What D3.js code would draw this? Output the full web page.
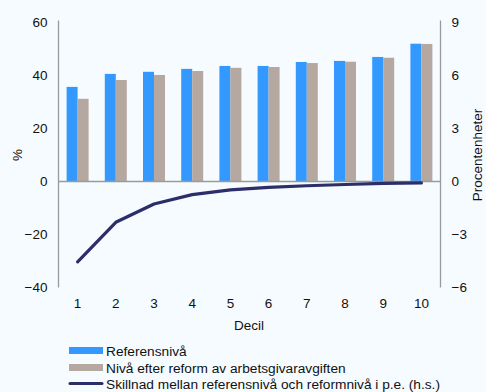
<!DOCTYPE html>
<html><head><meta charset="utf-8">
<script src="https://cdn.jsdelivr.net/npm/d3@7"></script>
<style>html,body{margin:0;padding:0;background:#f6fbff;}svg{display:block;font-family:"Liberation Sans",Arial,sans-serif;}</style>
</head><body><svg id="c" width="486" height="392"></svg>
<script>
const deciles = ["1","2","3","4","5","6","7","8","9","10"];
const referens = [35.7, 40.6, 41.4, 42.5, 43.6, 43.6, 45.1, 45.5, 47.0, 52.0];
const reform = [31.2, 38.3, 40.2, 41.7, 42.9, 43.2, 44.7, 45.2, 46.7, 51.9];
const skillnad = [-4.55, -2.31, -1.27, -0.74, -0.47, -0.33, -0.24, -0.17, -0.11, -0.08];
const leftTicks = [-40, -20, 0, 20, 40, 60];
const rightTicks = [-6, -3, 0, 3, 6, 9];
const legendLabels = ["Referensnivå", "Nivå efter reform av arbetsgivaravgiften", "Skillnad mellan referensnivå och reformnivå i p.e. (h.s.)"];

const svg = d3.select("#c");
svg.append("rect").attr("width",486).attr("height",392).attr("fill","#f6fbff");
const L = 58.5, R = 440.5, T = 22.5, B = 287.5;
const x = d3.scaleBand().domain(deciles).range([L, R]).paddingInner(0).paddingOuter(0);
const yL = d3.scaleLinear().domain([-40, 60]).range([B, T]);
const yR = d3.scaleLinear().domain([-6, 9]).range([B, T]);
const bw = 11;
const blue = "#3399ff", grey = "#b5a8a1", navy = "#2c2e6a", axis = "#9a9a9a";

// bars
svg.append("g").selectAll("rect").data(deciles).join("rect")
  .attr("x", d => x(d) + x.bandwidth()/2 - bw)
  .attr("y", (d,i) => yL(referens[i]))
  .attr("width", bw).attr("height", (d,i) => yL(0) - yL(referens[i]))
  .attr("fill", blue);
svg.append("g").selectAll("rect").data(deciles).join("rect")
  .attr("x", d => x(d) + x.bandwidth()/2)
  .attr("y", (d,i) => yL(reform[i]))
  .attr("width", bw).attr("height", (d,i) => yL(0) - yL(reform[i]))
  .attr("fill", grey);

// axes lines
svg.append("line").attr("x1",L).attr("x2",L).attr("y1",T-2).attr("y2",B).attr("stroke",axis).attr("stroke-width",1.3);
svg.append("line").attr("x1",R).attr("x2",R).attr("y1",T-2).attr("y2",B).attr("stroke",axis).attr("stroke-width",1.3);
svg.append("line").attr("x1",L).attr("x2",R).attr("y1",yL(0)).attr("y2",yL(0)).attr("stroke",axis).attr("stroke-width",1.3);

const ff = "Liberation Sans, Arial, sans-serif";
const la = svg.append("g").attr("transform",`translate(${L},0)`).call(d3.axisLeft(yL).tickValues(leftTicks).tickSize(0).tickPadding(11).tickFormat(d3.format("d")));
la.select(".domain").remove();
la.selectAll("text").attr("font-size",13.5).attr("fill","#111").attr("font-family",ff);
const ra = svg.append("g").attr("transform",`translate(${R},0)`).call(d3.axisRight(yR).tickValues(rightTicks).tickSize(0).tickPadding(11).tickFormat(d3.format("d")));
ra.select(".domain").remove();
ra.selectAll("text").attr("font-size",13.5).attr("fill","#111").attr("font-family",ff);
const xa = svg.append("g").attr("transform",`translate(0,${B})`).call(d3.axisBottom(x).tickSize(0).tickPadding(11));
xa.select(".domain").remove();
xa.selectAll("text").attr("font-size",13.5).attr("fill","#111").attr("font-family",ff);

// line
const line = d3.line().x((d,i) => x(deciles[i]) + x.bandwidth()/2).y(d => yR(d));
svg.append("path").datum(skillnad).attr("d", line).attr("fill","none").attr("stroke",navy).attr("stroke-width",3.2).attr("stroke-linecap","round").attr("stroke-linejoin","round");

// titles
svg.append("text").attr("transform","translate(22,155) rotate(-90)").attr("text-anchor","middle").attr("font-size",13.5).attr("fill","#111").text("%");
svg.append("text").attr("transform","translate(482,155) rotate(-90)").attr("text-anchor","middle").attr("font-size",13.5).attr("fill","#111").text("Procentenheter");
svg.append("text").attr("x",249).attr("y",330).attr("text-anchor","middle").attr("font-size",13.5).attr("fill","#111").text("Decil");

// legend
const lg = svg.append("g");
const rows = [350.5, 367.5, 383.5];
lg.append("rect").attr("x",69).attr("y",rows[0]-3.5).attr("width",34).attr("height",7).attr("fill",blue);
lg.append("rect").attr("x",69).attr("y",rows[1]-3.5).attr("width",34).attr("height",7).attr("fill",grey);
lg.append("line").attr("x1",70).attr("x2",102).attr("y1",rows[2]).attr("y2",rows[2]).attr("stroke",navy).attr("stroke-width",3).attr("stroke-linecap","round");
lg.selectAll("text").data(legendLabels).join("text")
  .attr("x",106).attr("y",(d,i)=>rows[i]+5).attr("font-size",13.7).attr("fill","#111").text(d=>d);
</script></body></html>
